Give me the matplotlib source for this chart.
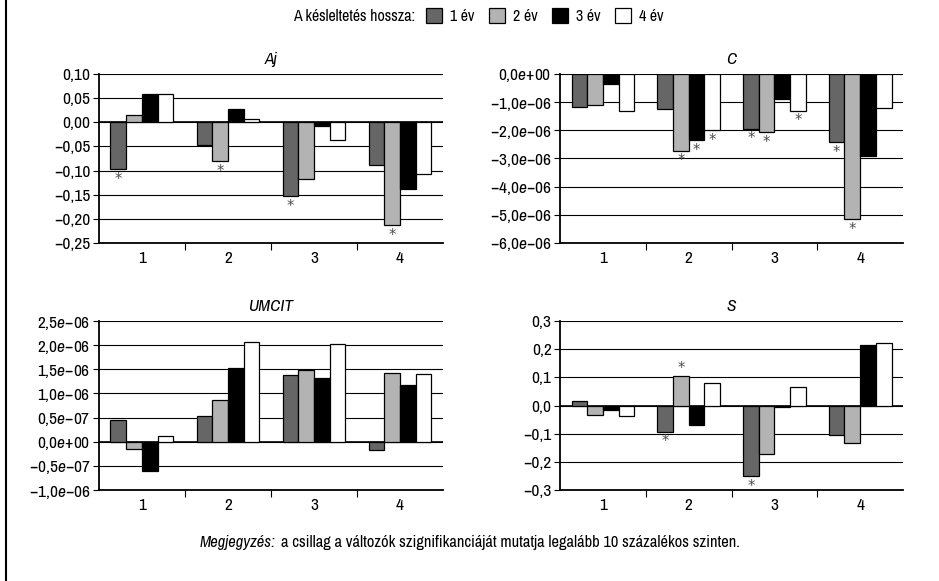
import numpy as np
import matplotlib
matplotlib.use('Agg')
import matplotlib.pyplot as plt
from matplotlib.patches import Patch
from matplotlib.lines import Line2D

plt.rcParams['font.family'] = ['Archivo Narrow', 'DejaVu Sans']
plt.rcParams['font.size'] = 12
plt.rcParams['mathtext.fontset'] = 'custom'
plt.rcParams['mathtext.it'] = 'Archivo Narrow:italic'
plt.rcParams['mathtext.rm'] = 'Archivo Narrow'

# kategoriak (kesleltetes) es sorozatok
lags = ['1', '2', '3', '4']
series = ['1 év', '2 év', '3 év', '4 év']
colors = ['#666666', '#b3b3b3', '#000000', '#ffffff']

# Aj
aj_1 = [-0.097, -0.048, -0.153, -0.089]
aj_2 = [0.014, -0.080, -0.117, -0.213]
aj_3 = [0.059, 0.028, -0.008, -0.138]
aj_4 = [0.059, 0.007, -0.036, -0.108]
aj_sig = [(0, 0), (1, 1), (2, 0), (3, 1)]
aj_ticks = [-0.25, -0.20, -0.15, -0.10, -0.05, 0.0, 0.05, 0.10]
aj_labels = ['−0,25', '−0,20', '−0,15', '−0,10', '−0,05', '0,00', '0,05', '0,10']

# C
c_1 = [-1.16e-6, -1.26e-6, -1.94e-6, -2.43e-6]
c_2 = [-1.11e-6, -2.72e-6, -2.07e-6, -5.15e-6]
c_3 = [-0.35e-6, -2.34e-6, -0.89e-6, -2.93e-6]
c_4 = [-1.31e-6, -2.00e-6, -1.30e-6, -1.20e-6]
c_sig = [(1, 1), (1, 2), (1, 3), (2, 0), (2, 1), (2, 3), (3, 0), (3, 1)]
c_ticks = [-6e-6, -5e-6, -4e-6, -3e-6, -2e-6, -1e-6, 0.0]
c_labels = ['−6,0$\\mathit{e}$−06', '−5,0$\\mathit{e}$−06', '−4,0$\\mathit{e}$−06',
            '−3,0$\\mathit{e}$−06', '−2,0$\\mathit{e}$−06', '−1,0$\\mathit{e}$−06',
            '0,0$\\mathit{e}$+00']

# UMCIT
u_1 = [0.46e-6, 0.54e-6, 1.39e-6, -0.18e-6]
u_2 = [-0.16e-6, 0.87e-6, 1.49e-6, 1.43e-6]
u_3 = [-0.61e-6, 1.52e-6, 1.31e-6, 1.18e-6]
u_4 = [0.12e-6, 2.07e-6, 2.03e-6, 1.41e-6]
u_sig = []
u_ticks = [-1e-6, -0.5e-6, 0.0, 0.5e-6, 1e-6, 1.5e-6, 2e-6, 2.5e-6]
u_labels = ['−1,0$\\mathit{e}$−06', '−0,5$\\mathit{e}$−07', '0,0$\\mathit{e}$+00',
            '0,5$\\mathit{e}$−07', '1,0$\\mathit{e}$−06', '1,5$\\mathit{e}$−06',
            '2,0$\\mathit{e}$−06', '2,5$\\mathit{e}$−06']

# S
s_1 = [0.017, -0.093, -0.252, -0.105]
s_2 = [-0.033, 0.105, -0.172, -0.132]
s_3 = [-0.017, -0.070, -0.005, 0.215]
s_4 = [-0.038, 0.080, 0.066, 0.222]
s_sig = [(1, 0), (1, 1), (2, 0)]
s_ticks = [-0.3, -0.2, -0.1, 0.0, 0.1, 0.2, 0.3]
s_labels = ['−0,3', '−0,2', '−0,1', '0,0', '0,1', '0,2', '0,3']

fig = plt.figure(figsize=(9.39, 5.81), dpi=100)

W = 0.183
x = np.arange(len(lags))


def panel(rect, title, vals, sig, ticks, labels):
    ax = fig.add_axes(rect)
    for i, v in enumerate(vals):
        ax.bar(x + (i - 1.5) * W, v, W, color=colors[i], edgecolor='black',
               linewidth=0.9, zorder=3)
    # csillag: szignifikans
    for (g, s) in sig:
        v = vals[s][g]
        if v < 0:
            ax.annotate('*', (x[g] + (s - 1.5) * W, v), xytext=(0, -2),
                        textcoords='offset points', ha='center', va='top',
                        family='DejaVu Sans', fontsize=10.5, color='#4d4d4d', zorder=4)
        else:
            ax.annotate('*', (x[g] + (s - 1.5) * W, v), xytext=(0, 0),
                        textcoords='offset points', ha='center', va='bottom',
                        family='DejaVu Sans', fontsize=10.5, color='#4d4d4d', zorder=4)
    ax.set_xlim(-0.5, len(lags) - 0.5)
    ax.set_ylim(ticks[0], ticks[-1])
    ax.set_yticks(ticks)
    ax.set_yticklabels(labels)
    ax.set_xticks(x)
    ax.set_xticklabels(lags)
    ax.set_xticks(x[:-1] + 0.5, minor=True)
    ax.tick_params(axis='x', which='major', length=0, pad=6, labelsize=12.5)
    ax.tick_params(axis='x', which='minor', length=5, width=0.8)
    ax.tick_params(axis='y', length=4, width=0.8, pad=2, labelsize=12.5)
    ax.grid(axis='y', color='black', linewidth=0.8, zorder=0)
    ax.axhline(0, color='black', linewidth=1.2, zorder=2)
    for sp in ['top', 'right']:
        ax.spines[sp].set_visible(False)
    ax.spines['left'].set_linewidth(1.3)
    ax.spines['bottom'].set_linewidth(1.3)
    ax.set_title(title, style='italic', fontsize=12.5, pad=7)
    return ax


panel([0.1054, 0.5818, 0.3664, 0.2909], 'Aj', [aj_1, aj_2, aj_3, aj_4], aj_sig, aj_ticks, aj_labels)
panel([0.5964, 0.5818, 0.3653, 0.2909], 'C', [c_1, c_2, c_3, c_4], c_sig, c_ticks, c_labels)
panel([0.1054, 0.1566, 0.3664, 0.2909], 'UMCIT', [u_1, u_2, u_3, u_4], u_sig, u_ticks, u_labels)
panel([0.5964, 0.1566, 0.3653, 0.2909], 'S', [s_1, s_2, s_3, s_4], s_sig, s_ticks, s_labels)

# jelmagyarazat
fig.text(0.442, 0.972, 'A késleltetés hossza:', ha='right', va='center', fontsize=11.5)
handles = [Patch(facecolor=c, edgecolor='black', linewidth=0.9) for c in colors]
fig.legend(handles, series, ncol=4, loc='center left', bbox_to_anchor=(0.454, 0.972),
           frameon=False, fontsize=11.5, handlelength=1.0, handleheight=1.0,
           handletextpad=0.5, columnspacing=0.9, borderaxespad=0, borderpad=0)

# megjegyzes
t1 = fig.text(0.213, 0.067, 'Megjegyzés:', style='italic', ha='left', va='center', fontsize=11.8)
fig.canvas.draw()
bb = t1.get_window_extent().transformed(fig.transFigure.inverted())
fig.text(bb.x1 + 0.006, 0.067,
         'a csillag a változók szignifikanciáját mutatja legalább 10 százalékos szinten.',
         ha='left', va='center', fontsize=11.8)

# keret bal oldalon
fig.add_artist(Line2D([0.006, 0.006], [0.0, 1.0], transform=fig.transFigure,
                      color='black', linewidth=1.5))

fig.savefig('out.png', dpi=100)
